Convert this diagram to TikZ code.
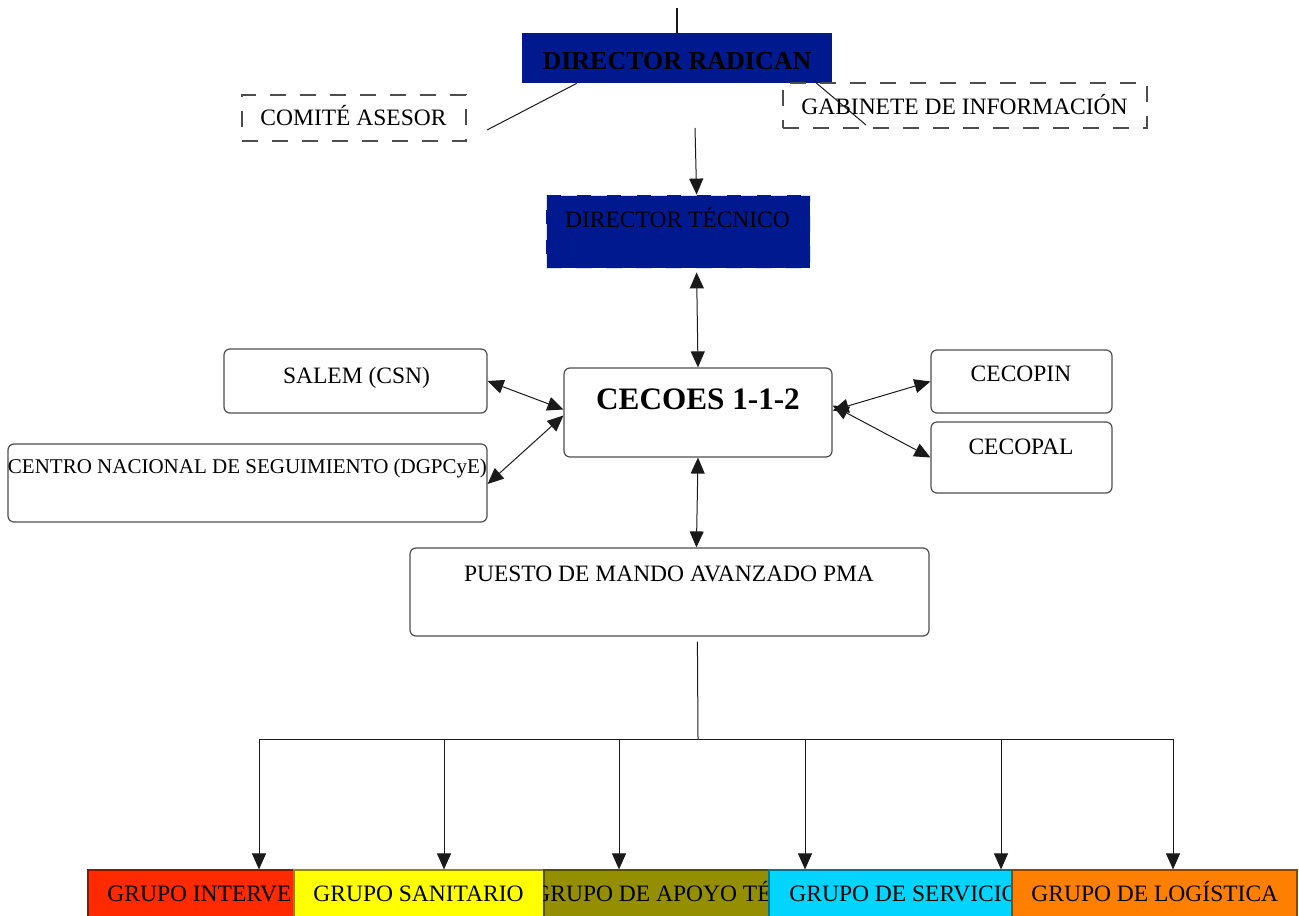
\documentclass[tikz,border=0pt]{standalone}
\usepackage{fontspec}
\setmainfont{Liberation Serif}
\usetikzlibrary{arrows.meta,calc,fit,positioning}
\definecolor{RadNavy}{HTML}{00198F}
\definecolor{GrpRed}{HTML}{FF2A00}
\definecolor{GrpYellow}{HTML}{FFFF00}
\definecolor{GrpOlive}{HTML}{938F00}
\definecolor{GrpCyan}{HTML}{00D4FF}
\definecolor{GrpOrange}{HTML}{FF7F00}
\definecolor{InkDark}{HTML}{1A1A1A}
\definecolor{InkSoft}{HTML}{4D4D4D}
\tikzset{
  rbox/.style={draw=InkSoft, line width=0.6pt, rounded corners=3pt, inner sep=0pt},
  dbox/.style={draw=InkSoft, line width=0.6pt, dash pattern=on 8pt off 7pt, inner sep=0pt},
  navybox/.style={fill=RadNavy, inner sep=0pt},
  grpbox/.style={line width=0.6pt, inner sep=0pt},
  lbl/.style={anchor=base, inner sep=0pt, font=\fontsize{11.75pt}{14pt}\selectfont},
  glbl/.style={lbl, anchor=base west},
  conn/.style={draw=InkDark, line width=0.5pt},
  arr/.style={conn, -{Triangle[length=8pt,width=7pt]}},
  dblarr/.style={conn, {Triangle[length=8pt,width=7pt]}-{Triangle[length=8pt,width=7pt]}},
}
\begin{document}
\begin{tikzpicture}[x=0.5pt, y=-0.5pt]
\useasboundingbox (0,0) rectangle (1299,915);
% top of the chart
\node[navybox, fit={(522,33) (832,83)}] (radican) {};
\node[lbl, font=\fontsize{13pt}{15pt}\selectfont\bfseries] (radicanT) at (677,70) {DIRECTOR RADICAN};
\coordinate (radTop) at (677,8);
\draw[conn, line width=0.9pt] (radTop) -- (radTop |- radican.north);
\node[dbox, fit={(242,95) (466,141)}] (comite) {};
\node[lbl] (comiteT) at (353.5,126) {COMITÉ ASESOR};
\node[dbox, fit={(783,83) (1147,128)}] (gabinete) {};
\node[lbl] (gabineteT) at (964.5,114) {GABINETE DE INFORMACIÓN};
\coordinate (comiteEnd) at (487,130);
\draw[conn] ($(radican.south west)+(55,0)$) -- (comiteEnd);
\coordinate (gabEnd) at (866,125);
\draw[conn] ($(radican.south east)+(-18,-2)$) -- (gabEnd);
% director tecnico
\node[navybox, draw=RadNavy!15, line width=0.4pt, dash pattern=on 8pt off 7pt, fit={(546,195) (810,268)}] (tecnico) {};
\node[lbl] (tecnicoT) at (677.5,227) {DIRECTOR TÉCNICO};
\coordinate (tecIn) at (695,128);
\draw[arr] (tecIn) -- ($(tecnico.north west)+(151,0)$);
% centros
\node[rbox, fit={(564,368) (832,457)}] (cecoes) {};
\node[lbl, font=\fontsize{15.6pt}{18pt}\selectfont\bfseries] (cecoesT) at (698,409) {CECOES 1-1-2};
\draw[dblarr] ($(tecnico.south west)+(151,4)$) -- (cecoes.north);
\node[rbox, fit={(224,349) (487,413)}] (salem) {};
\node[lbl] (salemT) at (356.5,383) {SALEM (CSN)};
\node[rbox, fit={(8,444) (487,522)}] (centro) {};
\node[lbl, font=\fontsize{10.5pt}{12pt}\selectfont] (centroT) at (247.5,473) {CENTRO NACIONAL DE SEGUIMIENTO (DGPCyE)};
\node[rbox, fit={(931,350) (1112,413)}] (cecopin) {};
\node[lbl] (cecopinT) at (1021,381) {CECOPIN};
\node[rbox, fit={(931,422) (1112,493)}] (cecopal) {};
\node[lbl] (cecopalT) at (1021,454) {CECOPAL};
\draw[dblarr] (salem.east) -- ($(cecoes.west)+(0,-3)$);
\draw[dblarr] ($(centro.east)+(0,1)$) -- ($(cecoes.west)+(0,3)$);
\draw[dblarr] ($(cecoes.east)+(0,-2)$) -- (cecopin.west);
\draw[dblarr] ($(cecoes.east)+(0,-7)$) -- (cecopal.west);
% puesto de mando
\node[rbox, fit={(410,548) (929,636)}] (pma) {};
\node[lbl] (pmaT) at (669,581) {PUESTO DE MANDO AVANZADO PMA};
\draw[dblarr] (cecoes.south) -- ($(pma.north west)+(287,0)$);
\coordinate (busMid) at (698,739);
\draw[conn] ($(pma.south west)+(288,5)$) -- (busMid);
\coordinate (busL) at (259,739);
\coordinate (busR) at (1173,739);
\draw[conn] (busL) -- (busR);
% grupos
\node[grpbox, fill=GrpRed, draw=GrpRed!55!black, fit={(88,870) (294,930)}] (gInt) {};
\node[glbl] (gIntT) at (107,901) {GRUPO INTERVE};
\node[grpbox, fill=GrpYellow, draw=GrpYellow!55!black, fit={(294,870) (544,930)}] (gSan) {};
\node[glbl] (gSanT) at (313,901) {GRUPO SANITARIO};
\node[grpbox, fill=GrpOlive, draw=GrpOlive!55!black, fit={(544,870) (769,930)}] (gApo) {};
\begin{scope}
\clip (gApo.north west) rectangle (gApo.south east);
\node[glbl] (gApoT) at (533,901) {GRUPO DE APOYO TÉ};
\end{scope}
\node[grpbox, fill=GrpCyan, draw=GrpCyan!55!black, fit={(769,870) (1012,930)}] (gSer) {};
\node[glbl] (gSerT) at (789,901) {GRUPO DE SERVICIO};
\node[grpbox, fill=GrpOrange, draw=GrpOrange!55!black, fit={(1012,870) (1297,930)}] (gLog) {};
\node[glbl] (gLogT) at (1031,901) {GRUPO DE LOGÍSTICA};
\foreach \bx/\g [count=\i] in {259/gInt,444/gSan,619/gApo,805/gSer,1001/gSer,1173/gLog}{
  \coordinate (bus\i) at (\bx,739);
  \draw[arr] (bus\i) -- (bus\i |- \g.north);
}
\end{tikzpicture}
\end{document}
